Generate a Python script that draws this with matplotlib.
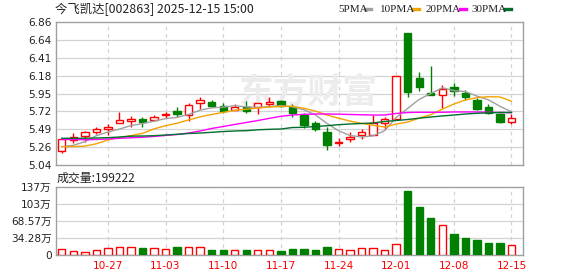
import numpy as np
import matplotlib
matplotlib.use("Agg")
import matplotlib.pyplot as plt
from matplotlib.patches import Rectangle

plt.rcParams['font.family'] = ['DejaVu Sans', 'Noto Sans CJK SC']

# daily candles 2025-10-21 .. 2025-12-15
opens = [5.222, 5.358, 5.413, 5.456, 5.502, 5.578, 5.605, 5.629, 5.609, 5.680,
         5.727, 5.673, 5.825, 5.846, 5.795, 5.740, 5.774, 5.782, 5.816, 5.858,
         5.774, 5.676, 5.571, 5.456, 5.322, 5.371, 5.426, 5.422, 5.571, 5.625,
         6.724, 6.143, 5.960, 5.935, 6.037, 5.960, 5.867, 5.782, 5.685, 5.583]
highs = [5.367, 5.443, 5.477, 5.520, 5.558, 5.715, 5.664, 5.651, 5.676, 5.718,
         5.774, 5.825, 5.902, 5.867, 5.825, 5.815, 5.858, 5.833, 5.902, 5.865,
         5.816, 5.698, 5.604, 5.520, 5.384, 5.464, 5.502, 5.676, 5.655, 6.173,
         6.724, 6.227, 6.300, 6.058, 6.080, 5.995, 5.893, 5.812, 5.700, 5.685]
lows = [5.197, 5.324, 5.337, 5.435, 5.422, 5.578, 5.527, 5.527, 5.605, 5.634,
        5.655, 5.596, 5.749, 5.774, 5.698, 5.735, 5.706, 5.693, 5.782, 5.774,
        5.647, 5.507, 5.477, 5.231, 5.282, 5.337, 5.367, 5.420, 5.494, 5.613,
        5.909, 5.982, 5.935, 5.762, 5.918, 5.870, 5.740, 5.685, 5.571, 5.562]
closes = [5.367, 5.393, 5.460, 5.494, 5.527, 5.609, 5.620, 5.587, 5.647, 5.693,
          5.685, 5.804, 5.863, 5.795, 5.731, 5.780, 5.731, 5.829, 5.842, 5.795,
          5.706, 5.545, 5.502, 5.298, 5.330, 5.400, 5.456, 5.571, 5.626, 6.173,
          5.973, 6.037, 5.935, 6.003, 5.986, 5.909, 5.753, 5.698, 5.591, 5.634]
# volume in 万 hands
volumes = [11.4, 8.7, 6.7, 9.4, 14.0, 16.0, 15.4, 14.0, 13.4, 11.4,
           15.4, 16.0, 16.0, 10.0, 10.0, 9.4, 10.0, 9.4, 9.4, 8.7,
           12.0, 12.0, 10.0, 16.0, 12.0, 9.4, 14.0, 14.0, 10.0, 21.4,
           128.5, 97.7, 74.3, 59.6, 42.2, 34.1, 30.8, 24.1, 24.1, 19.92]

ma5 = [5.273, 5.290, 5.337, 5.413, 5.460, 5.497, 5.542, 5.567, 5.598, 5.631,
       5.646, 5.683, 5.738, 5.768, 5.776, 5.795, 5.780, 5.773, 5.783, 5.795,
       5.781, 5.743, 5.678, 5.569, 5.476, 5.415, 5.397, 5.411, 5.477, 5.645,
       5.760, 5.876, 5.949, 6.024, 5.987, 5.974, 5.917, 5.870, 5.787, 5.717]
ma10 = [5.273, 5.275, 5.280, 5.310, 5.358, 5.392, 5.413, 5.443, 5.500, 5.540,
        5.572, 5.613, 5.653, 5.683, 5.710, 5.735, 5.750, 5.766, 5.778, 5.786,
        5.788, 5.762, 5.726, 5.676, 5.636, 5.598, 5.570, 5.545, 5.523, 5.561,
        5.587, 5.637, 5.680, 5.750, 5.816, 5.867, 5.897, 5.909, 5.906, 5.852]
ma20 = [5.365, 5.365, 5.361, 5.365, 5.371, 5.380, 5.386, 5.393, 5.403, 5.416,
        5.428, 5.447, 5.473, 5.505, 5.530, 5.556, 5.581, 5.606, 5.634, 5.660,
        5.676, 5.685, 5.689, 5.689, 5.687, 5.683, 5.679, 5.676, 5.676, 5.696,
        5.708, 5.711, 5.711, 5.711, 5.715, 5.715, 5.715, 5.711, 5.708, 5.706]
ma30 = [5.380, 5.380, 5.381, 5.384, 5.388, 5.396, 5.407, 5.409, 5.413, 5.422,
        5.431, 5.441, 5.447, 5.456, 5.466, 5.473, 5.477, 5.488, 5.494, 5.498,
        5.517, 5.520, 5.530, 5.540, 5.553, 5.562, 5.568, 5.575, 5.594, 5.606,
        5.619, 5.636, 5.651, 5.664, 5.676, 5.689, 5.698, 5.704, 5.708, 5.708]

date_ticks = [4, 9, 14, 19, 24, 29, 34, 39]
date_labels = ["10-27", "11-03", "11-10", "11-17", "11-24", "12-01", "12-08", "12-15"]
price_ticks = [5.04, 5.26, 5.49, 5.72, 5.95, 6.18, 6.41, 6.64, 6.86]
vol_ticks = [0, 34.28, 68.57, 102.86, 137.14]
vol_labels = ["0", "34.28万", "68.57万", "103万", "137万"]

RED = "#ff0000"
GREEN = "#008000"
GRID = "#d3d3d3"
SPINE = "#a0a0a0"
TXT = "#222222"

W, H = 578, 276
fig = plt.figure(figsize=(W / 100, H / 100), dpi=100)
fig.patch.set_facecolor("white")

def box(l, t, r, b):
    return [l / W, 1 - b / H, (r - l) / W, (b - t) / H]

ax = fig.add_axes(box(56, 22, 523, 165))
axv = fig.add_axes(box(56, 187, 523, 255))

n = len(closes)
xs = np.arange(n)
bw = 0.64

for a in (ax, axv):
    a.set_xlim(-0.5, 40)
    for s in a.spines.values():
        s.set_color(SPINE)
        s.set_linewidth(1)
    a.tick_params(length=0, labelsize=7.6, colors=TXT, pad=3)
    for t in date_ticks:
        a.axvline(t, color=GRID, lw=0.9, ls=(0, (3, 3)), zorder=0)

# price panel
ax.set_ylim(5.04, 6.86)
ax.set_yticks(np.linspace(5.04, 6.86, 9))
ax.set_yticklabels(["%.2f" % v for v in price_ticks])
for yv in np.linspace(5.04, 6.86, 9)[1:-1]:
    ax.axhline(yv, color=GRID, lw=0.9, zorder=0)
ax.set_xticks([])

ax.text(0.54, 0.51, "东方财富", transform=ax.transAxes, ha="center", va="center",
        fontsize=25, color="#ececec", fontweight="bold",
        family=["Noto Sans CJK SC"], zorder=0.5)

for i in range(n):
    up = closes[i] >= opens[i]
    col = RED if up else GREEN
    ax.vlines(xs[i], lows[i], highs[i], color=col, lw=1, zorder=2)
    lo, hi = min(opens[i], closes[i]), max(opens[i], closes[i])
    ax.add_patch(Rectangle((xs[i] - bw / 2, lo), bw, max(hi - lo, 0.004),
                           facecolor="white" if up else GREEN,
                           edgecolor=col, lw=1, zorder=3))

ax.plot(xs, ma5, color="#a0a0a0", lw=1, zorder=4)
ax.plot(xs, ma10, color="#f5a300", lw=1, zorder=4)
ax.plot(xs, ma20, color="#ff00ff", lw=1, zorder=4)
ax.plot(xs, ma30, color="#006e2e", lw=1, zorder=4)

# volume panel
axv.set_ylim(0, 137.14)
axv.set_yticks(vol_ticks)
axv.set_yticklabels(vol_labels)
for yv in vol_ticks[1:-1]:
    axv.axhline(yv, color=GRID, lw=0.9, zorder=0)
axv.set_xticks(date_ticks)
axv.set_xticklabels(date_labels, color=RED, fontsize=7.6)
axv.tick_params(axis="x", pad=4)

for i in range(n):
    up = closes[i] >= opens[i]
    col = RED if up else GREEN
    axv.add_patch(Rectangle((xs[i] - bw / 2, 0), bw, volumes[i],
                            facecolor="white" if up else GREEN,
                            edgecolor=col, lw=1, zorder=3))

cjk = ["Noto Sans CJK SC", "DejaVu Sans"]
fig.text(55 / W, 1 - 9 / H, "今飞凯达[002863] 2025-12-15 15:00", fontsize=8.9,
         color=TXT, va="center", ha="left", family=cjk)
fig.text(57 / W, 1 - 178 / H, "成交量:199222", fontsize=8.6, color=TXT,
         va="center", ha="left", family=cjk)

# legend in top right: label start, dash start/end (px)
leg = [("5PMA", "#a0a0a0", 338, 365, 371), ("10PMA", "#f5a300", 380, 413, 419),
       ("20PMA", "#ff00ff", 426, 460, 466), ("30PMA", "#006e2e", 472, 505, 511)]
for label, col, px, d0, d1 in leg:
    fig.text(px / W, 1 - 9 / H, label, fontsize=8, color=TXT,
             va="center", ha="left", family=["Liberation Serif"])
    fig.add_artist(plt.Line2D([d0 / W, d1 / W], [1 - 8.5 / H, 1 - 8.5 / H],
                              color=col, lw=2.4))

fig.savefig("out.png", dpi=100)
